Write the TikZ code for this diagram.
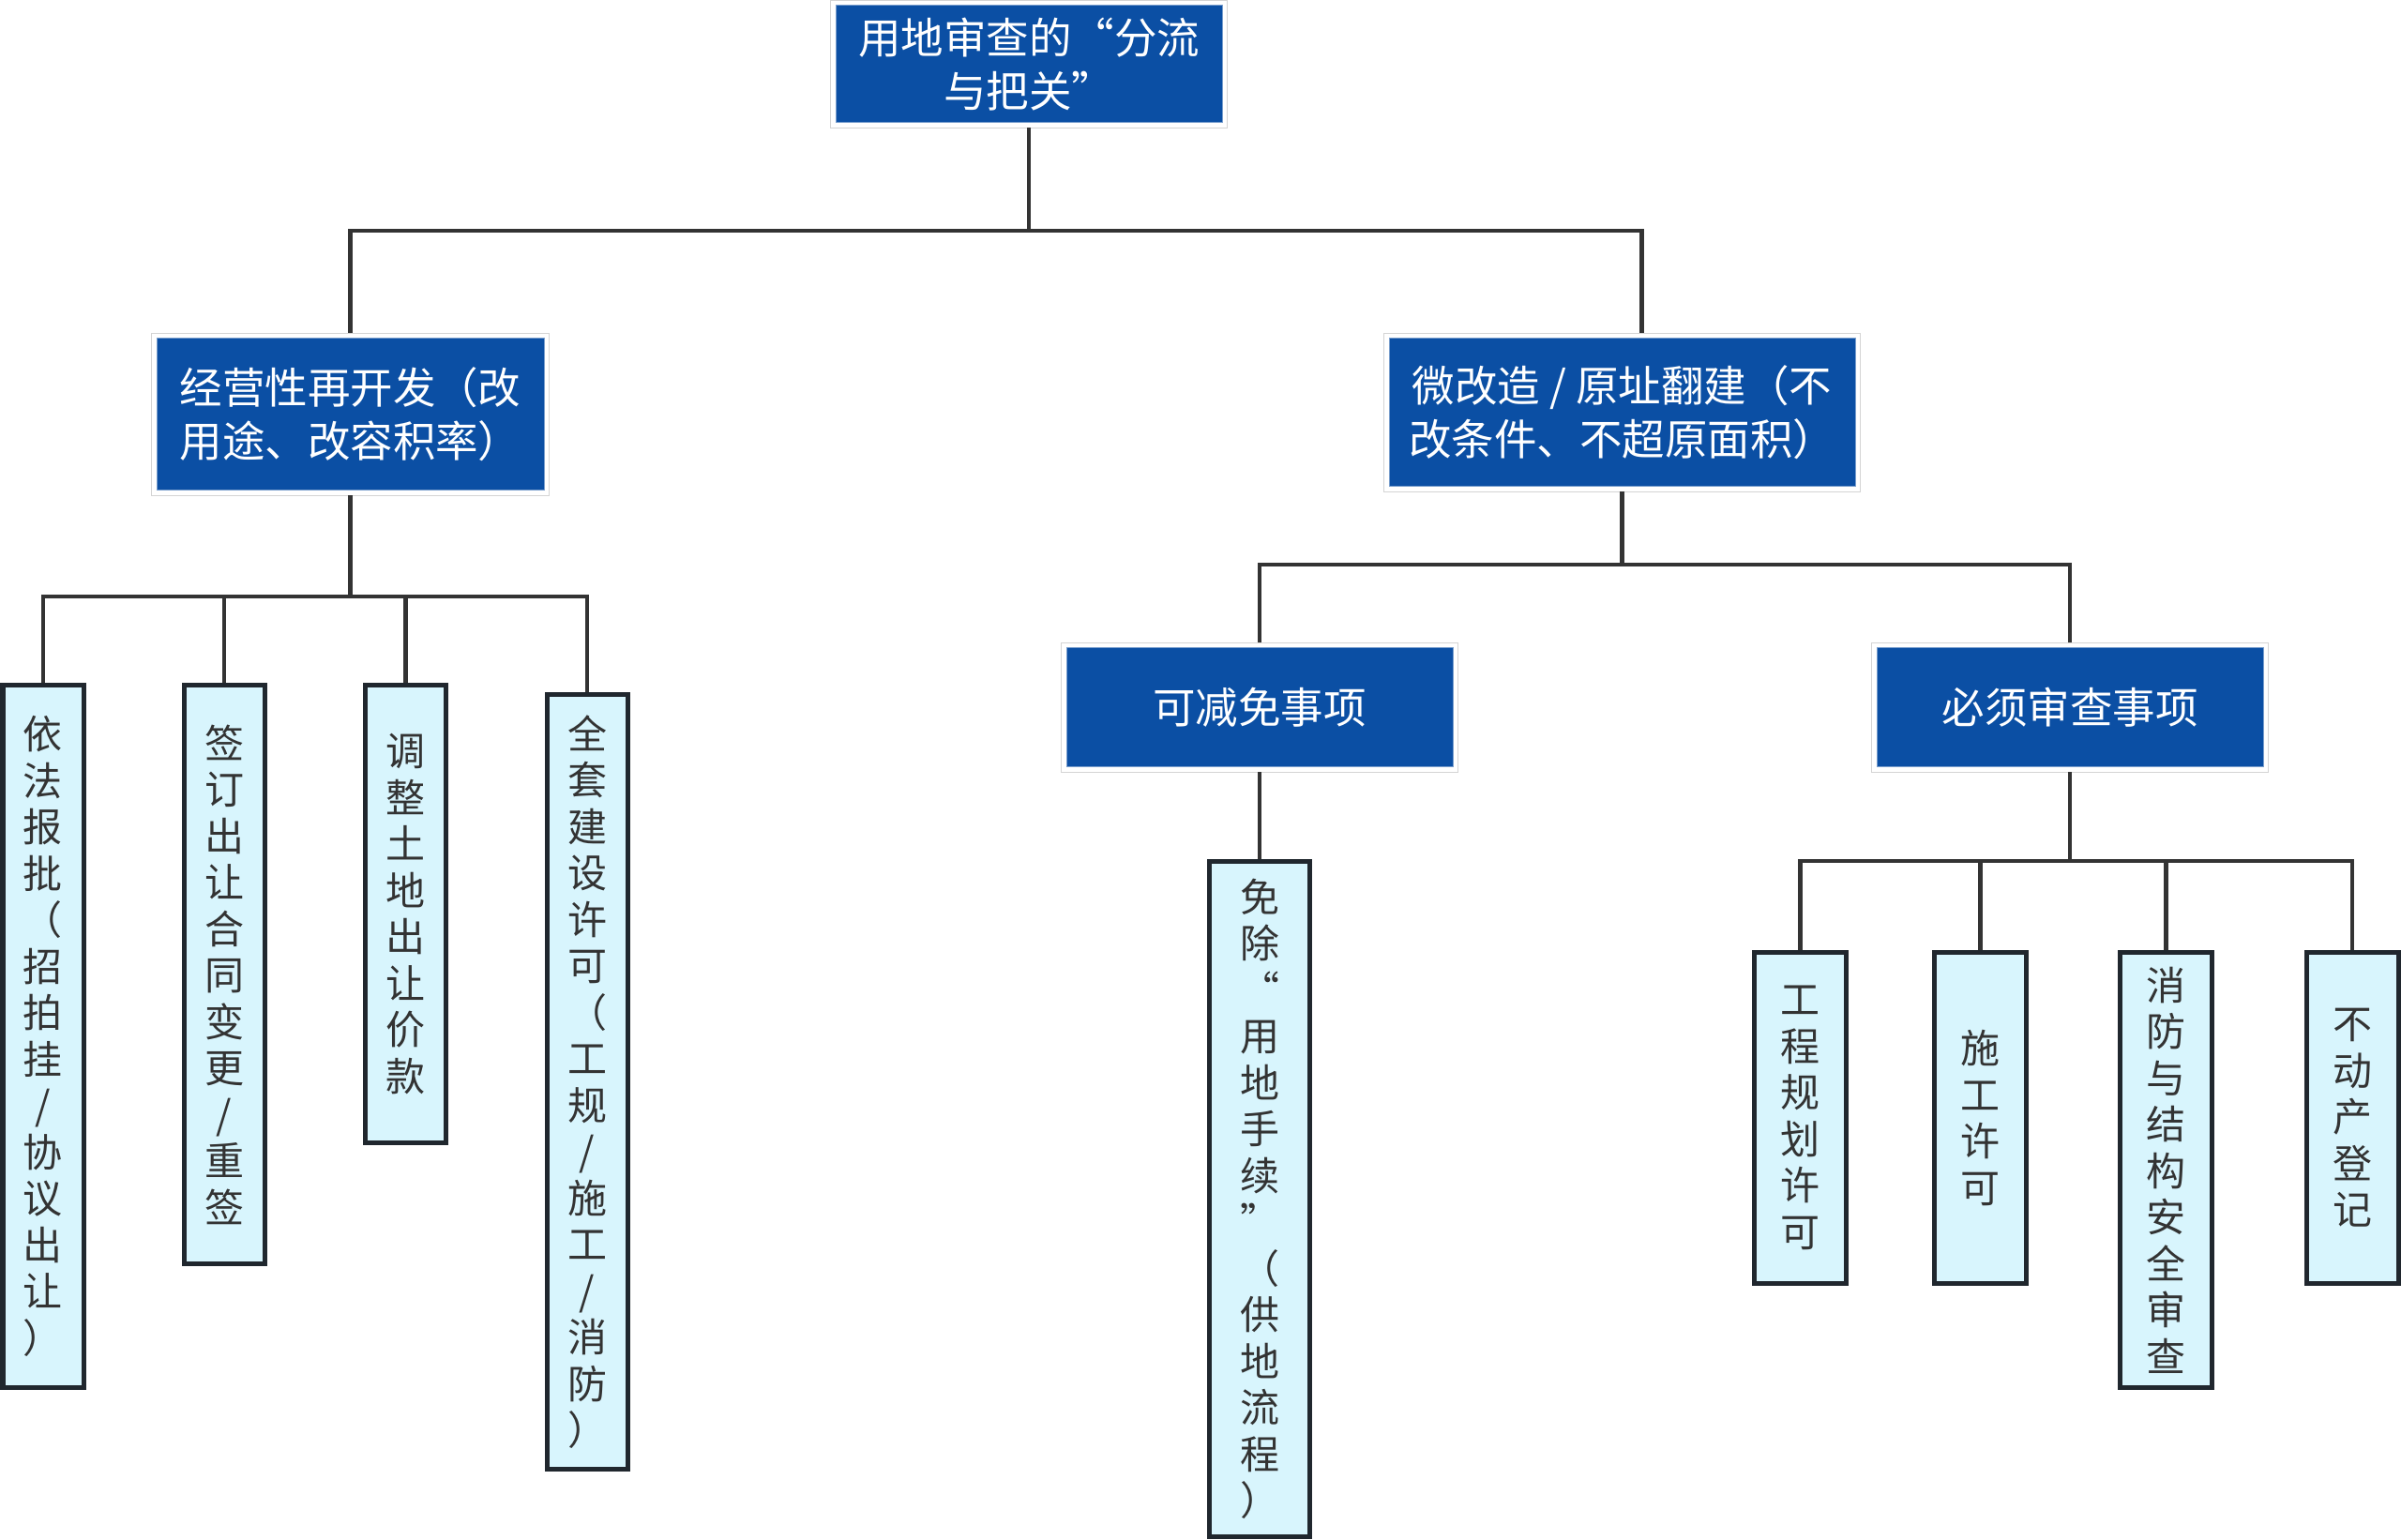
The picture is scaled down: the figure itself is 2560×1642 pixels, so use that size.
\documentclass[tikz,border=0pt]{standalone}
\usepackage{fontspec}
\setmainfont{Noto Sans CJK SC}
\definecolor{myblue}{HTML}{0B4FA4}
\definecolor{leaffill}{HTML}{D8F5FD}
\definecolor{leafline}{HTML}{20272E}
\definecolor{connc}{HTML}{333333}
\definecolor{framec}{HTML}{D4D4D4}
\definecolor{leaftext}{HTML}{333333}
\begin{document}
\begin{tikzpicture}[x=0.3pt,y=-0.3pt,
  sz/.style 2 args={minimum width=#1*0.3pt, minimum height=#2*0.3pt},
  bluebox/.style={rectangle, fill=myblue, draw=myblue!55!white, line width=0.3pt, inner sep=0pt, text=white, align=center, font=\fontsize{13.65pt}{17.1pt}\selectfont},
  leafbox/.style={rectangle, fill=leaffill, draw=leafline, line width=1.5pt, inner sep=0pt, text=leaftext, align=center, font=\fontsize{12.6pt}{14.85pt}\selectfont},
  conn/.style={draw=connc, line width=1.35pt},
  frameline/.style={draw=framec, line width=0.4pt}]
\useasboundingbox (0,0) rectangle (2560,1642);
\fill[white] (0,0) rectangle (2560,1642);

% blue nodes
\node[bluebox, sz={412}{125}] (root) at (1097,68.5) {用地审查的“分流\\与把关”};
\node[bluebox, sz={413}{162}] (l1a) at (373.5,442) {经营性再开发（改\\用途、改容积率）};
\node[bluebox, sz={497}{158}] (l1b) at (1729.5,440) {微改造 / 原址翻建（不\\改条件、不超原面积）};
\node[bluebox, sz={412}{127}] (l2a) at (1343,754.5) {可减免事项};
\node[bluebox, sz={412}{127}] (l2b) at (2207,754.5) {必须审查事项};

\foreach \n in {root,l1a,l1b,l2a,l2b}
  \draw[frameline] ([shift={(-5,-5)}]\n.north west) rectangle ([shift={(5,5)}]\n.south east);

% leaves
\node[leafbox, sz={86}{749}] (a1) at (46,1105) {依\\法\\报\\批\\（\\招\\拍\\挂\\/\\协\\议\\出\\让\\）};
\node[leafbox, sz={86}{617}] (a2) at (239,1039) {签\\订\\出\\让\\合\\同\\变\\更\\/\\重\\签};
\node[leafbox, sz={86}{488}] (a3) at (432.5,974.5) {调\\整\\土\\地\\出\\让\\价\\款};
\node[leafbox, sz={86}{826}] (a4) at (626,1153.5) {全\\套\\建\\设\\许\\可\\（\\工\\规\\/\\施\\工\\/\\消\\防\\）};
\node[leafbox, sz={107}{720}] (m1) at (1343,1278.5) {免\\除\\“\\用\\地\\手\\续\\”\\（\\供\\地\\流\\程\\）};
\node[leafbox, sz={98}{353}] (r1) at (1919.5,1192) {工\\程\\规\\划\\许\\可};
\node[leafbox, sz={98}{353}] (r2) at (2111.5,1192) {施\\工\\许\\可};
\node[leafbox, sz={98}{464}] (r3) at (2309.5,1247.5) {消\\防\\与\\结\\构\\安\\全\\审\\查};
\node[leafbox, sz={98}{353}] (r4) at (2508,1192) {不\\动\\产\\登\\记};

% bar levels
\coordinate (b0) at (0,246);
\coordinate (b1) at (0,636);
\coordinate (b2) at (0,602);
\coordinate (b3) at (0,918);

% connectors
\draw[conn, shorten <=1.5pt, shorten >=1.5pt] (root.south) -- (root.south |- b0) -| (l1a.north);
\draw[conn, shorten >=1.5pt] (root.south |- b0) -| ([xshift=6.3pt]l1b.north);

\draw[conn, shorten <=1.5pt] (l1a.south) -- (l1a.south |- b1) -| (a1.north);
\draw[conn] (l1a.south |- b1) -| (a2.north);
\draw[conn] (l1a.south |- b1) -| (a3.north);
\draw[conn] (l1a.south |- b1) -| (a4.north);

\draw[conn, shorten <=1.5pt, shorten >=1.5pt] (l1b.south) -- (l1b.south |- b2) -| (l2a.north);
\draw[conn, shorten >=1.5pt] (l1b.south |- b2) -| (l2b.north);

\draw[conn, shorten <=1.5pt] (l2a.south) -- (m1.north);

\draw[conn, shorten <=1.5pt] (l2b.south) -- (l2b.south |- b3) -| (r1.north);
\draw[conn] (l2b.south |- b3) -| (r2.north);
\draw[conn] (l2b.south |- b3) -| (r3.north);
\draw[conn] (l2b.south |- b3) -| (r4.north);
\end{tikzpicture}
\end{document}
